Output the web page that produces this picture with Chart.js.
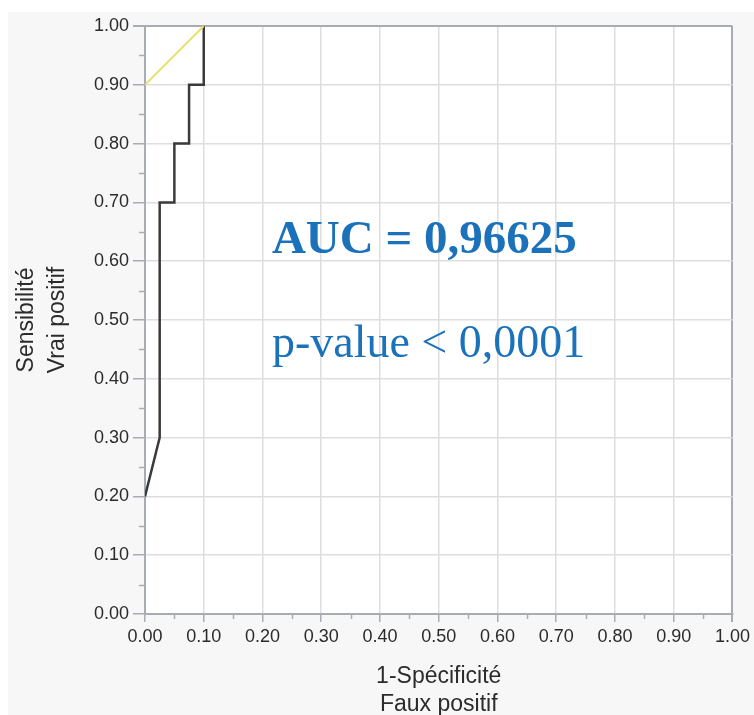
<!DOCTYPE html>
<html>
<head>
<meta charset="utf-8">
<script src="https://cdn.jsdelivr.net/npm/chart.js@4/dist/chart.umd.min.js"></script>
<style>
  body { margin: 0; background: #fff; }
  #wrap { width: 754px; height: 715px; }
</style>
</head>
<body>
<div id="wrap"><canvas id="canvas" width="754" height="715"></canvas></div>
<script>
// ROC curve points (1 - specificity, sensitivity)
const fauxPositif = [0, 0.025, 0.025, 0.05, 0.05, 0.075, 0.075, 0.1, 0.1]
const vraiPositif = [0.2, 0.3, 0.7, 0.7, 0.8, 0.8, 0.9, 0.9, 1.0]

// yellow reference segment
const refX = [0, 0.1]
const refY = [0.9, 1.0]

const statLines = ["AUC = 0,96625", "p-value < 0,0001"]

const toPoints = (xs, ys) => xs.map((x, i) => ({ x, y: ys[i] }))

const AXIS = "#a7adb3"
const GRID = "#dedede"
const SANS = "'Liberation Sans', Arial, sans-serif"
const SERIF = "'Liberation Serif', 'Times New Roman', serif"

// grey panel behind everything, white plot area
const panelBg = {
  id: "panelBg",
  beforeDraw(chart) {
    const { ctx, chartArea: a } = chart
    ctx.save()
    ctx.fillStyle = "#f7f7f7"
    ctx.fillRect(8, 12, chart.width - 8, chart.height - 12)
    ctx.fillStyle = "#fff"
    ctx.fillRect(a.left, a.top, a.right - a.left, a.bottom - a.top)
    ctx.restore()
  }
}

// short ticks half way between the labelled ones
const minorTicks = {
  id: "minorTicks",
  afterDraw(chart) {
    const { ctx, scales: { x, y } } = chart
    ctx.save()
    ctx.strokeStyle = AXIS
    ctx.lineWidth = 1.5
    for (let v = 0.05; v < 1; v += 0.1) {
      const px = Math.round(x.getPixelForValue(v)) + 0.5
      ctx.beginPath()
      ctx.moveTo(px, x.top)
      ctx.lineTo(px, x.top + 5)
      ctx.stroke()
      const py = Math.round(y.getPixelForValue(v)) + 0.5
      ctx.beginPath()
      ctx.moveTo(y.right, py)
      ctx.lineTo(y.right - 6, py)
      ctx.stroke()
    }
    ctx.restore()
  }
}

// AUC / p-value text inside the plot
const statsText = {
  id: "statsText",
  afterDatasetsDraw(chart) {
    const { ctx, scales: { x, y } } = chart
    ctx.save()
    ctx.fillStyle = "#1b72bb"
    ctx.textBaseline = "alphabetic"
    ctx.font = "bold 47px " + SERIF
    ctx.fillText(statLines[0], x.getPixelForValue(0.216), y.getPixelForValue(0.614))
    ctx.font = "46px " + SERIF
    ctx.fillText(statLines[1], x.getPixelForValue(0.216), y.getPixelForValue(0.437))
    ctx.restore()
  }
}

const isEdge = c => c.tick && Math.abs(c.tick.value - 1) < 1e-6

new Chart(document.getElementById("canvas"), {
  type: "scatter",
  data: {
    datasets: [
      {
        data: toPoints(refX, refY),
        showLine: true,
        borderColor: "#e8e06a",
        borderWidth: 2,
        pointRadius: 0
      },
      {
        data: toPoints(fauxPositif, vraiPositif),
        showLine: true,
        borderColor: "#3a3a3a",
        borderWidth: 2.5,
        pointRadius: 0
      }
    ]
  },
  options: {
    responsive: false,
    animation: false,
    layout: { padding: { top: 26, right: 20, left: 0, bottom: 0 } },
    plugins: {
      legend: { display: false },
      tooltip: { enabled: false }
    },
    scales: {
      x: {
        type: "linear",
        min: 0,
        max: 1,
        afterFit: s => { s.height = 101 },
        ticks: {
          stepSize: 0.1,
          padding: 4,
          color: "#2b2b2b",
          font: { family: SANS, size: 18 },
          maxRotation: 0,
          callback: v => v.toFixed(2)
        },
        grid: {
          color: c => isEdge(c) ? AXIS : GRID,
          lineWidth: c => isEdge(c) ? 2 : 1.5,
          tickColor: AXIS,
          tickLength: 8
        },
        border: { color: AXIS, width: 2 },
        title: {
          display: true,
          text: ["1-Spécificité", "Faux positif"],
          color: "#2b2b2b",
          font: { family: SANS, size: 23, lineHeight: 1.22 },
          padding: { top: 0, bottom: -4 }
        }
      },
      y: {
        type: "linear",
        min: 0,
        max: 1,
        afterFit: s => { s.width = 145 },
        ticks: {
          stepSize: 0.1,
          padding: 4,
          color: "#2b2b2b",
          font: { family: SANS, size: 18 },
          callback: v => v.toFixed(2)
        },
        grid: {
          color: c => isEdge(c) ? AXIS : GRID,
          lineWidth: c => isEdge(c) ? 2 : 1.5,
          tickColor: AXIS,
          tickLength: 12
        },
        border: { color: AXIS, width: 2 },
        title: {
          display: true,
          text: ["Sensibilité", "Vrai positif"],
          color: "#2b2b2b",
          font: { family: SANS, size: 23, lineHeight: 1.35 },
          padding: { top: 11.5, bottom: 0 }
        }
      }
    }
  },
  plugins: [panelBg, minorTicks, statsText]
})
</script>
</body>
</html>
